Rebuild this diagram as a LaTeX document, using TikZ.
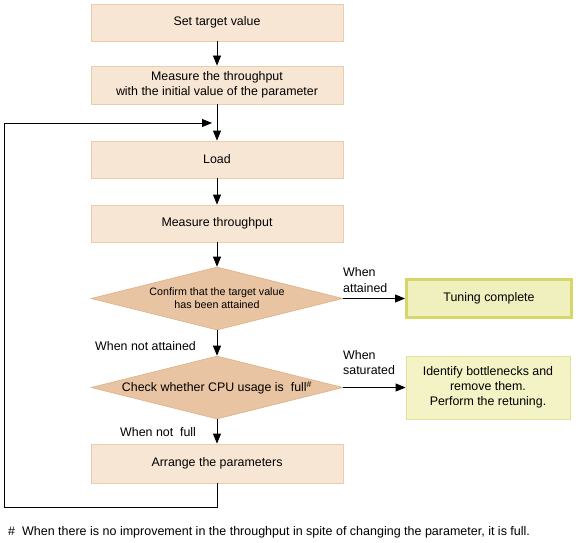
\documentclass[tikz,border=0pt]{standalone}
\usepackage{fontspec}
\setmainfont{Liberation Sans}
\usetikzlibrary{shapes.geometric,arrows.meta}
\definecolor{boxfill}{HTML}{F7E6D4}
\definecolor{boxline}{HTML}{EBCDAE}
\definecolor{diafill}{HTML}{E8C4A2}
\definecolor{dialine}{HTML}{DDB28C}
\definecolor{okfill}{HTML}{F0F0BE}
\definecolor{okline}{HTML}{D6D66A}
\definecolor{idfill}{HTML}{F3F3C6}
\definecolor{idline}{HTML}{E2E29A}
\tikzset{
  stepbox/.style={draw=boxline, fill=boxfill, line width=0.8pt, minimum width=252pt, inner sep=0pt, align=center, font=\fontsize{12.4}{14.5}\selectfont},
  decide/.style={diamond, draw=dialine, fill=diafill, line width=0.6pt, minimum width=252pt, minimum height=63pt, aspect=4, inner sep=0pt, align=center},
  flow/.style={-{Triangle[length=10pt,width=8pt]}, line width=0.8pt, draw=black},
  lbl/.style={font=\fontsize{12.4}{14.5}\selectfont, inner sep=0pt},
}
\begin{document}
\begin{tikzpicture}[x=1pt,y=-1pt]
\useasboundingbox (0,0) rectangle (576,543);
\node[stepbox, minimum height=37pt] (b1) at (217,22.5) {Set target value};
\node[stepbox, minimum height=38pt] (b2) at (217,85) {Measure the throughput\\with the initial value of the parameter};
\node[stepbox, minimum height=37pt] (b3) at (217,159.5) {Load};
\node[stepbox, minimum height=37pt] (b4) at (217,223.5) {Measure throughput};
\node[decide, font=\fontsize{10.7}{13}\selectfont] (d1) at (217,298.5) {Confirm that the target value\\has been attained};
\node[decide, font=\fontsize{12.4}{14.5}\selectfont] (d2) at (217,387.5) {Check whether CPU usage is\ \ full\textsuperscript{\#}};
\node[stepbox, minimum height=39pt] (b5) at (217,463.5) {Arrange the parameters};
\node[draw=okline, fill=okfill, line width=3pt, minimum width=165pt, minimum height=38pt, inner sep=0pt, font=\fontsize{12.4}{14.5}\selectfont] (ok) at (489,298.5) {Tuning complete};
\node[draw=idline, fill=idfill, line width=0.8pt, minimum width=164pt, minimum height=63pt, inner sep=0pt, align=center, font=\fontsize{12.4}{15}\selectfont] (id) at (488,387.5) {Identify bottlenecks and\\remove them.\\Perform the retuning.};
\coordinate (c1) at (217,507);
\coordinate (c2) at (4,507);
\coordinate (c3) at (4,123);
\coordinate (c4) at (212,123);
\draw[flow] (b1) -- (b2);
\draw[flow] (b2) -- (b3);
\draw[flow] (b3) -- (b4);
\draw[flow] (b4) -- (d1);
\draw[flow] (d1) -- (d2);
\draw[flow] (d2) -- (b5);
\draw[flow] (d1.east) -- (ok.west);
\draw[flow] (d2.east) -- (id.west);
\draw[flow] (b5.south) -- (c1) -- (c2) -- (c3) -- (c4);
\node[lbl, anchor=west, align=left, font=\fontsize{12.4}{16}\selectfont] (l1) at (343,280) {When\\attained};
\node[lbl, anchor=west] (l2) at (95,346) {When not attained};
\node[lbl, anchor=west, align=left, font=\fontsize{12.4}{15}\selectfont] (l3) at (343,363) {When\\saturated};
\node[lbl, anchor=west] (l4) at (120,432) {When not\ \ full};
\node[lbl, anchor=west, font=\fontsize{12.5}{14}\selectfont] (fn) at (8,532) {\#\ \ When there is no improvement in the throughput in spite of changing the parameter, it is full.};
\end{tikzpicture}
\end{document}
